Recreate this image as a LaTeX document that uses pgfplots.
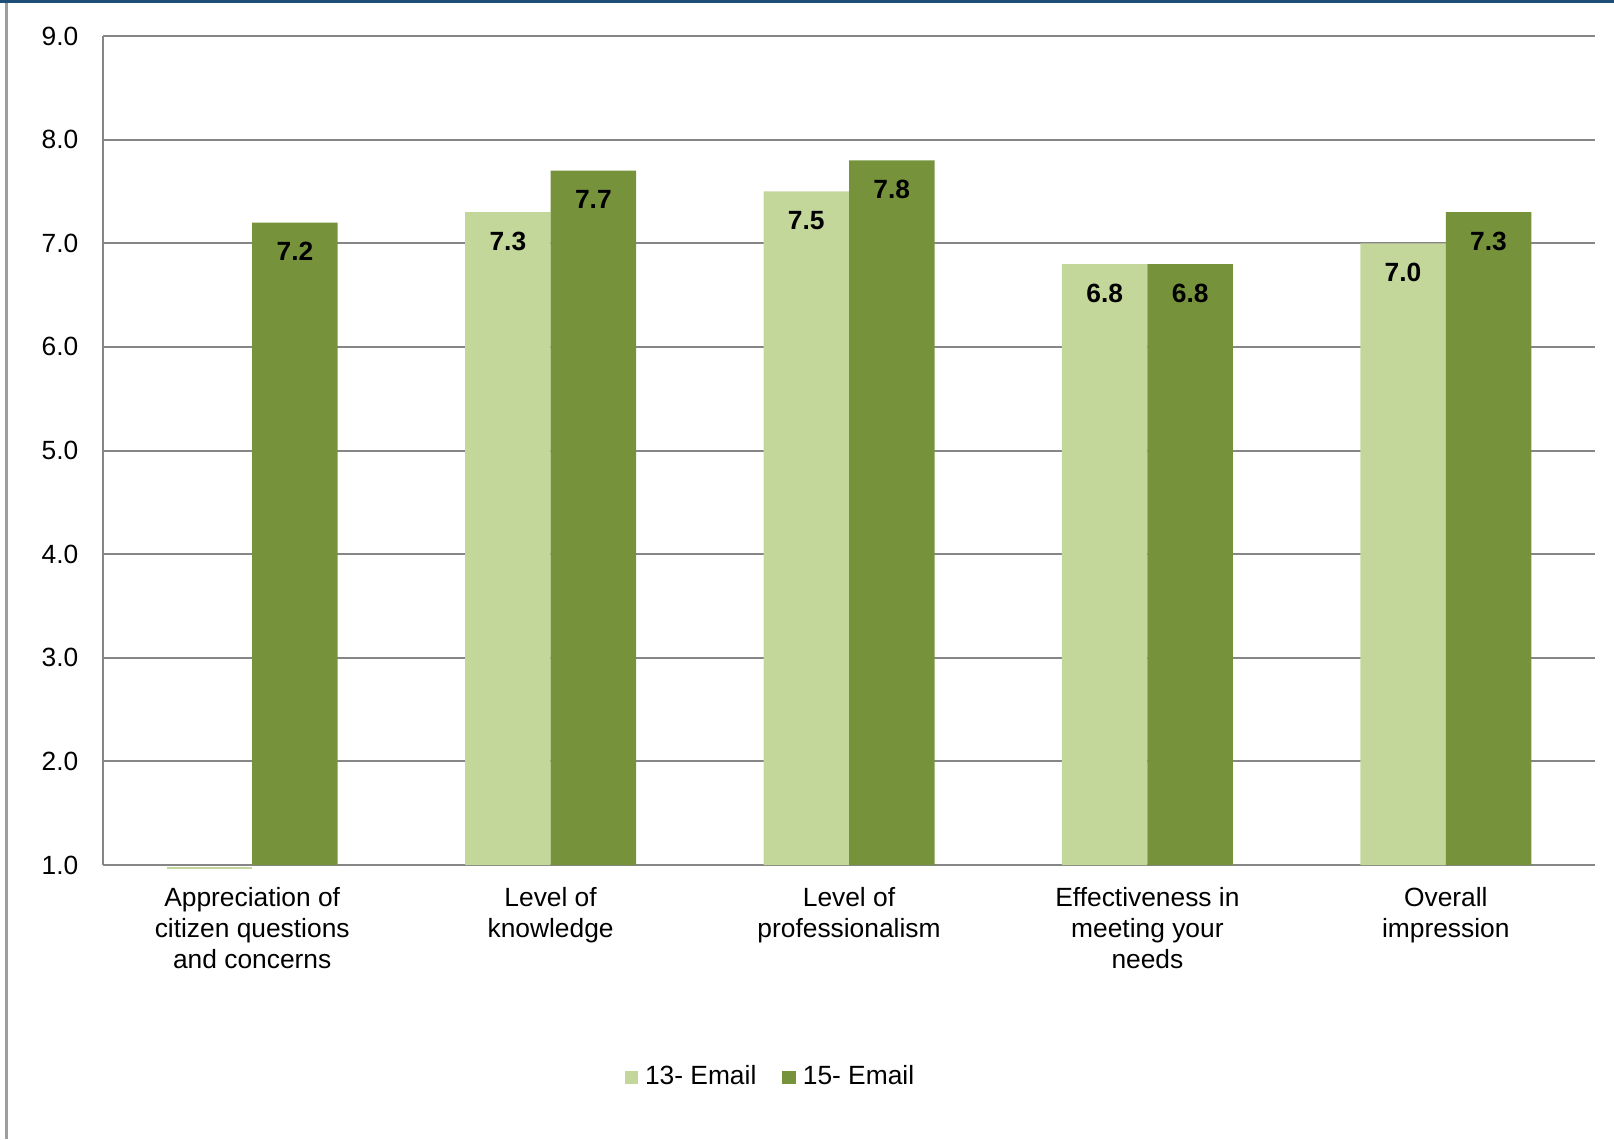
\documentclass[border=0pt]{standalone}
\usepackage{pgfplots}
\pgfplotsset{compat=1.18}
\usepackage{fontspec}
\setmainfont{Liberation Sans}

\definecolor{lightolive}{RGB}{196,215,155}
\definecolor{darkolive}{RGB}{118,147,60}
\definecolor{gridgray}{RGB}{134,134,134}
\definecolor{frameblue}{RGB}{31,78,121}

\newcommand{\chartfont}{\fontsize{7.5pt}{8.8pt}\selectfont}

\begin{document}
\begin{tikzpicture}
  % page frame
  \useasboundingbox (0,0) rectangle (161.4mm,113.9mm);
  \fill[frameblue] (0,113.6mm) rectangle (161.4mm,113.9mm);
  \draw[gridgray!80, line width=0.3mm] (0.65mm,0) -- (0.65mm,113.6mm);

  \begin{axis}[
      at={(10.3mm,27.4mm)}, anchor=south west,
      scale only axis,
      width=149.2mm, height=82.9mm,
      ybar, bar width=8.55mm,
      xmin=-0.5, xmax=4.5,
      ymin=1, ymax=9,
      ytick={1,2,3,4,5,6,7,8,9},
      yticklabels={1.0,2.0,3.0,4.0,5.0,6.0,7.0,8.0,9.0},
      xtick={0,1,2,3,4},
      xticklabels={
        {Appreciation of\\citizen questions\\and concerns},
        {Level of\\knowledge},
        {Level of\\professionalism},
        {Effectiveness in\\meeting your\\needs},
        {Overall\\impression}},
      major tick length=0pt,
      axis x line*=bottom,
      axis y line*=left,
      axis line style={gridgray, line width=0.2mm},
      ymajorgrids,
      grid style={gridgray, line width=0.2mm},
      yticklabel style={font=\chartfont, inner sep=0pt, xshift=-2.4mm, anchor=east},
      xticklabel style={font=\chartfont, align=center, inner sep=0pt, yshift=-2.2mm, anchor=north},
      nodes near coords,
      point meta=explicit symbolic,
      every node near coord/.append style={font=\chartfont\bfseries, anchor=center, yshift=-2.9mm, text=black},
      legend columns=2,
      legend style={at={(0.449,-0.256)}, anchor=center, draw=none, font=\chartfont,
                    /tikz/every even column/.append style={column sep=1.9mm}},
      legend image code/.code={\fill[#1] (0mm,-0.67mm) rectangle (1.34mm,0.67mm);},
      clip=false,
    ]
    \addplot[fill=lightolive, draw=none, bar shift=-4.275mm]
      coordinates {(1,7.3) [7.3] (2,7.5) [7.5] (3,6.8) [6.8] (4,7.0) [7.0]};
    \addlegendentry{13- Email}
    \addplot[fill=darkolive, draw=none, bar shift=4.275mm]
      coordinates {(0,7.2) [7.2] (1,7.7) [7.7] (2,7.8) [7.8] (3,6.8) [6.8] (4,7.3) [7.3]};
    \addlegendentry{15- Email}
    % empty first category for 13- Email: only a hairline at the base
    \draw[lightolive, line width=0.25mm]
      ([xshift=-8.55mm, yshift=-0.3mm]axis cs:0,1) -- ([yshift=-0.3mm]axis cs:0,1);
  \end{axis}
\end{tikzpicture}
\end{document}
